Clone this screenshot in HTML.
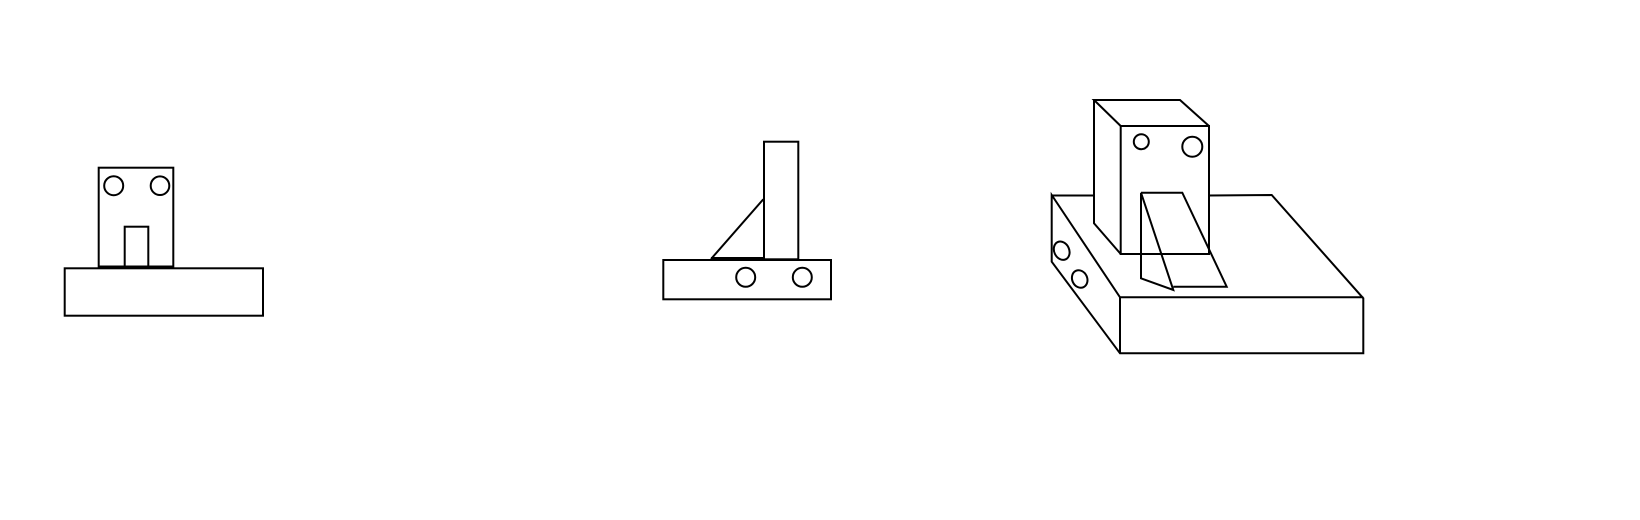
<!DOCTYPE html>
<html><head><meta charset="utf-8"><style>html,body{margin:0;padding:0;background:#fff;width:1640px;height:520px;overflow:hidden}</style></head>
<body>
<svg width="1640" height="520" viewBox="0 0 1640 520" fill="none" stroke="#000" stroke-width="2">
<g>
<rect x="64.7" y="268.3" width="198.3" height="47.4"/>
<rect x="98.7" y="167.7" width="74.6" height="99"/>
<circle cx="113.7" cy="185.7" r="9.5"/>
<circle cx="160" cy="185.7" r="9.3"/>
<rect x="124.7" y="226.7" width="23.6" height="40"/>
<line x1="98.7" y1="267" x2="173.3" y2="267" stroke-width="3"/>
</g>
<g>
<rect x="663.3" y="260" width="167.7" height="39.3"/>
<rect x="764" y="141.7" width="34.3" height="117.6"/>
<line x1="711" y1="259" x2="763.3" y2="199.3"/>
<line x1="711" y1="258.5" x2="764" y2="258.5" stroke-width="3"/>
<circle cx="745.7" cy="277.3" r="9.5"/>
<circle cx="802.3" cy="277.3" r="9.5"/>
</g>
<g>
<polyline points="1051.7,195.5 1094,195.5"/>
<polyline points="1209,195.5 1271.7,195 1363.3,298.3 1363.3,353.3 1120,353.3 1051.7,261.7 1051.7,195 1120,297.3 1363.3,297.3"/>
<line x1="1120" y1="297.3" x2="1120" y2="353.3"/>
<ellipse cx="1061.7" cy="250.7" rx="7.5" ry="9.5" transform="rotate(-25 1061.7 250.7)"/>
<ellipse cx="1079.7" cy="279" rx="7.5" ry="9" transform="rotate(-25 1079.7 279)"/>
<polyline points="1120.7,126 1094,100 1180,100 1209,126"/>
<polyline points="1094,100 1094,223.3 1120.7,254"/>
<rect x="1120.7" y="126" width="88.3" height="128"/>
<circle cx="1141.3" cy="141.7" r="7.5"/>
<circle cx="1192.3" cy="146.7" r="10"/>
<polyline points="1141,192.7 1182.3,192.7 1226.7,286.7 1173.3,286.7"/>
<polyline points="1141,192.7 1141,278.3 1173.3,290 1141,192.7"/>
</g>
</svg>
</body></html>
